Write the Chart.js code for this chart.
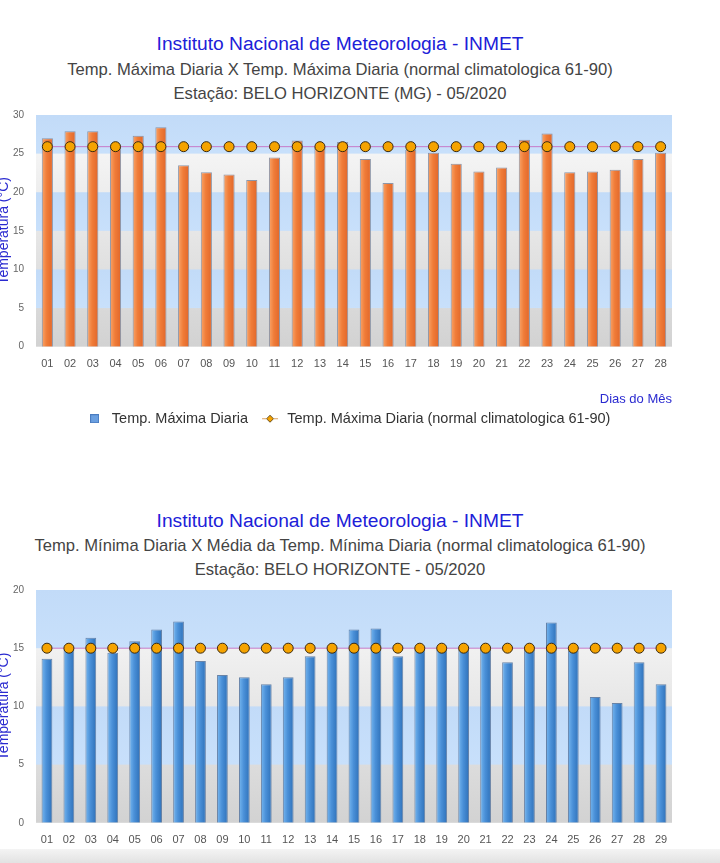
<!DOCTYPE html>
<html>
<head>
<meta charset="utf-8">
<script src="https://cdn.jsdelivr.net/npm/chart.js@4.4.1/dist/chart.umd.min.js"></script>
<style>
  html, body { margin:0; padding:0; width:720px; height:863px; overflow:hidden; background:#fff; font-family:"Liberation Sans", Arial, sans-serif; }
  .t { position:absolute; left:0; width:680px; text-align:center; white-space:nowrap; line-height:20px; }
  .main { color:#2020d8; font-size:19.2px; }
  .sub { color:#444; font-size:16.6px; }
  #c1wrap { position:absolute; left:-3px; top:100px; width:723px; height:344px; }
  #c2wrap { position:absolute; left:-3px; top:575px; width:723px; height:283px; }
  #strip { position:absolute; left:0; top:849px; width:720px; height:14px; background:linear-gradient(#f4f4f4,#e2e2e2); }
</style>
</head>
<body>
<div class="t main" style="top:34px;">Instituto Nacional de Meteorologia - INMET</div>
<div class="t sub" style="top:60px;">Temp. Máxima Diaria X Temp. Máxima Diaria (normal climatologica 61-90)</div>
<div class="t sub" style="top:84px;">Estação: BELO HORIZONTE (MG) - 05/2020</div>
<div id="c1wrap"><canvas id="c1"></canvas></div>

<div class="t main" style="top:511px;">Instituto Nacional de Meteorologia - INMET</div>
<div class="t sub" style="top:536px;">Temp. Mínima Diaria X Média da Temp. Mínima Diaria (normal climatologica 61-90)</div>
<div class="t sub" style="top:560px;">Estação: BELO HORIZONTE - 05/2020</div>
<div id="c2wrap"><canvas id="c2"></canvas></div>
<div id="strip"></div>

<script>
// ---- data ----
const daysMax = ['01','02','03','04','05','06','07','08','09','10','11','12','13','14','15','16','17','18','19','20','21','22','23','24','25','26','27','28'];
const tempMax = [27.0,27.9,27.9,25.8,27.3,28.4,23.5,22.6,22.3,21.6,24.5,26.7,25.9,26.5,24.3,21.2,25.5,25.1,23.7,22.7,23.2,26.8,27.6,22.6,22.7,22.9,24.3,25.1];
const normalMax = [25.9,25.9,25.9,25.9,25.9,25.9,25.9,25.9,25.9,25.9,25.9,25.9,25.9,25.9,25.9,25.9,25.9,25.9,25.9,25.9,25.9,25.9,25.9,25.9,25.9,25.9,25.9,25.9];

const daysMin = ['01','02','03','04','05','06','07','08','09','10','11','12','13','14','15','16','17','18','19','20','21','22','23','24','25','26','27','28','29'];
const tempMin = [14.1,14.9,15.9,14.6,15.6,16.6,17.3,13.9,12.7,12.5,11.9,12.5,14.3,14.9,16.6,16.7,14.3,14.9,14.9,14.9,14.9,13.8,14.9,17.2,14.8,10.8,10.3,13.8,11.9];
const normalMin = [15.0,15.0,15.0,15.0,15.0,15.0,15.0,15.0,15.0,15.0,15.0,15.0,15.0,15.0,15.0,15.0,15.0,15.0,15.0,15.0,15.0,15.0,15.0,15.0,15.0,15.0,15.0,15.0,15.0];

const labelMax = 'Temp. Máxima Diaria';
const labelMaxNormal = 'Temp. Máxima Diaria (normal climatologica 61-90)';
const labelMin = 'Temp. Mínima Diaria';
const labelMinNormal = 'Média da Temp. Mínima Diaria (normal climatologica 61-90)';

const FONT = '"Liberation Sans", Arial, sans-serif';

// legend marker images
function squareIcon() {
  const c = document.createElement('canvas'); c.width = 9; c.height = 9;
  const x = c.getContext('2d');
  x.fillStyle = '#6a9fe0'; x.fillRect(0.5, 0.5, 8, 8);
  x.strokeStyle = '#4a7cc0'; x.lineWidth = 1; x.strokeRect(0.5, 0.5, 8, 8);
  return c;
}
function lineDiamondIcon() {
  const c = document.createElement('canvas'); c.width = 18; c.height = 9;
  const x = c.getContext('2d');
  x.strokeStyle = '#d8a060'; x.lineWidth = 1;
  x.beginPath(); x.moveTo(1, 4.5); x.lineTo(17, 4.5); x.stroke();
  x.beginPath(); x.moveTo(9, 1); x.lineTo(12.5, 4.5); x.lineTo(9, 8); x.lineTo(5.5, 4.5); x.closePath();
  x.fillStyle = '#f5a300'; x.fill(); x.strokeStyle = '#6a5020'; x.stroke();
  return c;
}

// background bands plugin
const bands = {
  id: 'bands',
  beforeDatasetsDraw(chart) {
    const {ctx, chartArea: a, scales: {y}} = chart;
    ctx.save();
    const g = ctx.createLinearGradient(0, a.top, 0, a.bottom);
    g.addColorStop(0, '#fbfbfb');
    g.addColorStop(1, '#d2d2d2');
    ctx.fillStyle = g;
    ctx.fillRect(a.left, a.top, a.right - a.left, a.bottom - a.top);
    const step = 5;
    for (let v = 0, i = 0; v < y.max; v += step, i++) {
      if (i % 2 === 1) {
        const top = y.getPixelForValue(v + step), bot = y.getPixelForValue(v);
        const bg = ctx.createLinearGradient(0, top, 0, bot);
        bg.addColorStop(0, '#c2dbf8');
        bg.addColorStop(1, '#c8e0fb');
        ctx.fillStyle = bg;
        ctx.fillRect(a.left, top, a.right - a.left, bot - top);
      }
    }
    ctx.restore();
  }
};

// nudge legend to match the original placement
const legendShift = {
  id: 'legendShift',
  afterLayout(chart) {
    const l = chart.legend;
    if (l && l.options.display) { l.left += 13; l.right += 13; l.top -= 8; l.bottom -= 8; }
  }
};

function barGrad(light, mid, dark) {
  return (c) => {
    const chart = c.chart, x = chart.scales.x;
    if (!x || c.type !== 'data' || x.left === undefined) return mid;
    const cx = x.getPixelForValue(c.dataIndex);
    const w = 11;
    const g = chart.ctx.createLinearGradient(cx - w / 2, 0, cx + w / 2, 0);
    g.addColorStop(0, light);
    g.addColorStop(0.45, mid);
    g.addColorStop(1, dark);
    return g;
  };
}

function makeChart(id, labels, bars, normal, lblBar, lblNorm, yMax, colors, withExtras) {
  const icons = [squareIcon(), lineDiamondIcon()];
  return new Chart(document.getElementById(id), {
    data: {
      labels: labels,
      datasets: [
        {
          type: 'line', label: lblNorm, data: normal, order: 0,
          borderColor: '#c87ac8', borderWidth: 1,
          pointRadius: 5, pointHoverRadius: 5,
          pointBackgroundColor: '#f5a300', pointBorderColor: '#3a2a10', pointBorderWidth: 1
        },
        {
          type: 'bar', label: lblBar, data: bars, order: 1,
          backgroundColor: barGrad(colors[0], colors[1], colors[2]),
          borderColor: colors[3], borderWidth: 1,
          categoryPercentage: 1.0, barPercentage: 0.49
        }
      ]
    },
    options: {
      responsive: true, maintainAspectRatio: false, animation: false,
      layout: { autoPadding: false, padding: { top: 15, right: 48, left: 0, bottom: 0 } },
      plugins: {
        tooltip: { enabled: false },
        legend: {
          display: withExtras, position: 'bottom',
          labels: {
            usePointStyle: true, pointStyleWidth: 20, boxHeight: 9, padding: 12,
            font: { family: FONT, size: 14.5 }, color: '#333',
            generateLabels: () => [
              { text: lblBar, pointStyle: icons[0], fontColor: '#333', lineWidth: 0 },
              { text: lblNorm, pointStyle: icons[1], fontColor: '#333', lineWidth: 0 }
            ]
          }
        }
      },
      scales: {
        x: {
          offset: true,
          grid: { display: false, drawTicks: false }, border: { display: false },
          ticks: { font: { family: FONT, size: 11 }, color: '#555', padding: 11, maxRotation: 0, autoSkip: false },
          title: { display: withExtras, text: 'Dias do Mês', align: 'end', color: '#2a2ad0', font: { family: FONT, size: 13 }, padding: { top: 10, bottom: 0 } }
        },
        y: {
          min: 0, max: yMax,
          afterFit(s) { s.width = 39; },
          grid: { display: false, drawTicks: false }, border: { display: false },
          ticks: { stepSize: 5, font: { family: FONT, size: 10, lineHeight: 0.4 }, color: '#666', padding: 12 },
          title: { display: true, text: 'Temperatura (°C)', color: '#2a2ad0', font: { family: FONT, size: 14, lineHeight: 1 }, padding: 0 }
        }
      }
    },
    plugins: [bands, legendShift]
  });
}

makeChart('c1', daysMax, tempMax, normalMax, labelMax, labelMaxNormal, 30,
  ['#f9a56a', '#f07c38', '#e0662a', 'rgba(130,140,160,0.9)'], true);
makeChart('c2', daysMin, tempMin, normalMin, labelMin, labelMinNormal, 20,
  ['#78b8f0', '#4a90d8', '#2e70b8', 'rgba(90,120,160,0.9)'], false);
</script>
</body>
</html>
